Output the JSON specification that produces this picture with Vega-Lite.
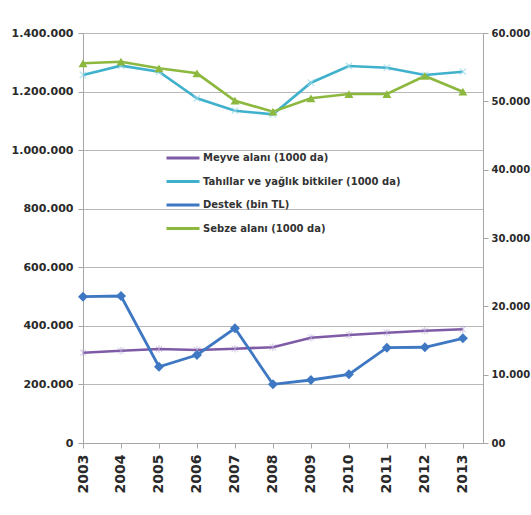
{
  "$schema": "https://vega.github.io/schema/vega-lite/v6.json",
  "width": 400,
  "height": 410,
  "autosize": "none",
  "padding": {"left": 83, "top": 33, "right": 48, "bottom": 72},
  "background": "white",
  "data": {
    "values": [
      {"year": 2003, "series": "Meyve alanı (1000 da)", "value": 308300},
      {"year": 2004, "series": "Meyve alanı (1000 da)", "value": 315200},
      {"year": 2005, "series": "Meyve alanı (1000 da)", "value": 321000},
      {"year": 2006, "series": "Meyve alanı (1000 da)", "value": 317600},
      {"year": 2007, "series": "Meyve alanı (1000 da)", "value": 322000},
      {"year": 2008, "series": "Meyve alanı (1000 da)", "value": 326800},
      {"year": 2009, "series": "Meyve alanı (1000 da)", "value": 359600},
      {"year": 2010, "series": "Meyve alanı (1000 da)", "value": 368800},
      {"year": 2011, "series": "Meyve alanı (1000 da)", "value": 376600},
      {"year": 2012, "series": "Meyve alanı (1000 da)", "value": 383500},
      {"year": 2013, "series": "Meyve alanı (1000 da)", "value": 388200},
      {"year": 2003, "series": "Tahıllar ve yağlık bitkiler (1000 da)", "value": 1256600},
      {"year": 2004, "series": "Tahıllar ve yağlık bitkiler (1000 da)", "value": 1288400},
      {"year": 2005, "series": "Tahıllar ve yağlık bitkiler (1000 da)", "value": 1267900},
      {"year": 2006, "series": "Tahıllar ve yağlık bitkiler (1000 da)", "value": 1177000},
      {"year": 2007, "series": "Tahıllar ve yağlık bitkiler (1000 da)", "value": 1134700},
      {"year": 2008, "series": "Tahıllar ve yağlık bitkiler (1000 da)", "value": 1122300},
      {"year": 2009, "series": "Tahıllar ve yağlık bitkiler (1000 da)", "value": 1230300},
      {"year": 2010, "series": "Tahıllar ve yağlık bitkiler (1000 da)", "value": 1287300},
      {"year": 2011, "series": "Tahıllar ve yağlık bitkiler (1000 da)", "value": 1281500},
      {"year": 2012, "series": "Tahıllar ve yağlık bitkiler (1000 da)", "value": 1256600},
      {"year": 2013, "series": "Tahıllar ve yağlık bitkiler (1000 da)", "value": 1267900},
      {"year": 2003, "series": "Destek (bin TL)", "value": 21410},
      {"year": 2004, "series": "Destek (bin TL)", "value": 21510},
      {"year": 2005, "series": "Destek (bin TL)", "value": 11160},
      {"year": 2006, "series": "Destek (bin TL)", "value": 12880},
      {"year": 2007, "series": "Destek (bin TL)", "value": 16780},
      {"year": 2008, "series": "Destek (bin TL)", "value": 8590},
      {"year": 2009, "series": "Destek (bin TL)", "value": 9220},
      {"year": 2010, "series": "Destek (bin TL)", "value": 10050},
      {"year": 2011, "series": "Destek (bin TL)", "value": 13950},
      {"year": 2012, "series": "Destek (bin TL)", "value": 14010},
      {"year": 2013, "series": "Destek (bin TL)", "value": 15320},
      {"year": 2003, "series": "Sebze alanı (1000 da)", "value": 1296500},
      {"year": 2004, "series": "Sebze alanı (1000 da)", "value": 1302000},
      {"year": 2005, "series": "Sebze alanı (1000 da)", "value": 1279400},
      {"year": 2006, "series": "Sebze alanı (1000 da)", "value": 1262300},
      {"year": 2007, "series": "Sebze alanı (1000 da)", "value": 1168800},
      {"year": 2008, "series": "Sebze alanı (1000 da)", "value": 1131300},
      {"year": 2009, "series": "Sebze alanı (1000 da)", "value": 1177000},
      {"year": 2010, "series": "Sebze alanı (1000 da)", "value": 1191700},
      {"year": 2011, "series": "Sebze alanı (1000 da)", "value": 1191700},
      {"year": 2012, "series": "Sebze alanı (1000 da)", "value": 1253200},
      {"year": 2013, "series": "Sebze alanı (1000 da)", "value": 1199600}
    ]
  },
  "encoding": {
    "x": {
      "field": "year",
      "type": "quantitative",
      "scale": {"domain": [2003, 2013.53], "nice": false, "zero": false},
      "axis": {
        "title": null,
        "values": [2003, 2004, 2005, 2006, 2007, 2008, 2009, 2010, 2011, 2012, 2013],
        "format": "d",
        "labelAngle": -90,
        "labelFontSize": 14,
        "labelPadding": 6,
        "grid": false
      }
    }
  },
  "layer": [
    {
      "encoding": {
        "y": {
          "field": "value",
          "type": "quantitative",
          "scale": {"domain": [0, 1400000], "nice": false},
          "axis": {
            "title": null,
            "orient": "left",
            "values": [0, 200000, 400000, 600000, 800000, 1000000, 1200000, 1400000],
            "format": ",d",
            "grid": true
          }
        }
      },
      "layer": [
        {
          "transform": [{"filter": "datum.series !== 'Destek (bin TL)'"}],
          "mark": {"type": "line", "strokeWidth": 2.6},
          "encoding": {
            "color": {
              "field": "series",
              "type": "nominal",
              "scale": {
                "domain": ["Meyve alanı (1000 da)", "Tahıllar ve yağlık bitkiler (1000 da)", "Destek (bin TL)", "Sebze alanı (1000 da)"],
                "range": ["#7E5BA6", "#3FB1CC", "#3E78C2", "#8CB83E"]
              },
              "legend": {
                "title": null,
                "orient": "none",
                "legendX": 82,
                "legendY": 115,
                "symbolType": "stroke",
                "symbolSize": 1089,
                "symbolStrokeWidth": 3,
                "clipHeight": 20,
                "rowPadding": 3.5,
                "labelOffset": 2,
                "labelLimit": 400,
                "labelFont": "DejaVu Sans",
                "labelFontWeight": "bold",
                "labelFontSize": 10,
                "labelColor": "#333333"
              }
            }
          }
        },
        {
          "transform": [{"filter": "datum.series === 'Meyve alanı (1000 da)'"}],
          "mark": {"type": "point", "filled": false, "shape": "M-1,-1L1,1M-1,1L1,-1M0,-1.2L0,1.2", "size": 40, "strokeWidth": 1, "color": "#B9A6D3"}
        },
        {
          "transform": [{"filter": "datum.series === 'Tahıllar ve yağlık bitkiler (1000 da)'"}],
          "mark": {"type": "point", "filled": false, "shape": "M-1,-1L1,1M-1,1L1,-1", "size": 40, "strokeWidth": 1.4, "color": "#9FDCEA"}
        },
        {
          "transform": [{"filter": "datum.series === 'Sebze alanı (1000 da)'"}],
          "mark": {"type": "point", "filled": true, "shape": "triangle-up", "size": 80, "opacity": 1, "color": "#8CB83E"}
        }
      ]
    },
    {
      "transform": [{"filter": "datum.series === 'Destek (bin TL)'"}],
      "encoding": {
        "y": {
          "field": "value",
          "type": "quantitative",
          "scale": {"domain": [0, 60000], "nice": false},
          "axis": {
            "title": null,
            "orient": "right",
            "values": [0, 10000, 20000, 30000, 40000, 50000, 60000],
            "format": ",d",
            "labelExpr": "datum.value === 0 ? '00' : datum.label",
            "labelFontSize": 10,
            "labelPadding": 3,
            "grid": false
          }
        }
      },
      "layer": [
        {
          "mark": {"type": "line", "strokeWidth": 2.8},
          "encoding": {
            "color": {"field": "series", "type": "nominal"}
          }
        },
        {
          "mark": {"type": "point", "filled": true, "shape": "diamond", "size": 100, "opacity": 1, "color": "#3E78C2"}
        }
      ]
    }
  ],
  "resolve": {"scale": {"y": "independent"}},
  "config": {
    "locale": {"number": {"decimal": ",", "thousands": ".", "grouping": [3], "currency": ["", ""]}},
    "view": {"stroke": null},
    "font": "DejaVu Sans",
    "axis": {
      "labelFont": "DejaVu Sans",
      "labelFontWeight": "bold",
      "labelFontSize": 11,
      "labelColor": "#2a2a2a",
      "domainColor": "#a6a6a6",
      "tickColor": "#a6a6a6",
      "gridColor": "#b8b8b8",
      "tickSize": 5,
      "labelPadding": 5
    }
  }
}
